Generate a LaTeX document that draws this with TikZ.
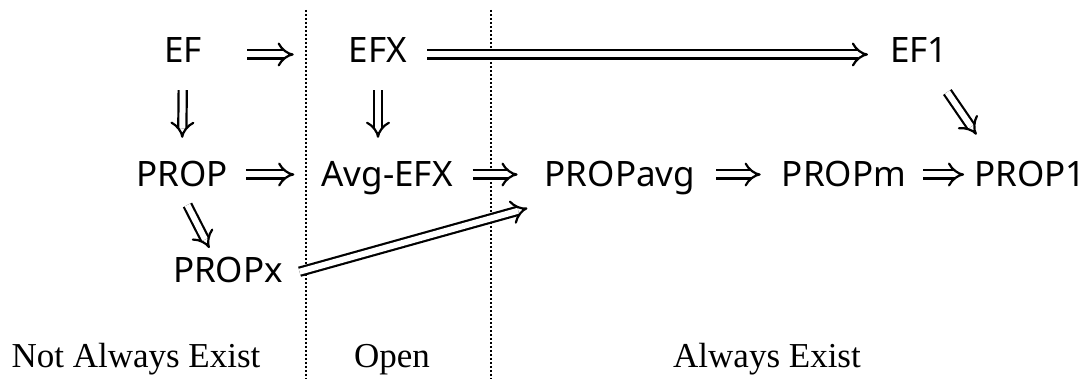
\documentclass[tikz,border=0pt]{standalone}
\usepackage{fontspec}
\setsansfont{Noto Sans}
\setmainfont{Liberation Serif}
\usepackage{tikz}
\usetikzlibrary{arrows.meta}

\begin{document}
\begin{tikzpicture}[x=1pt, y=-1pt,
        notion/.style={font=\sffamily\fontsize{35}{40}\selectfont, anchor=base, inner sep=0pt, text height=25pt, text depth=0pt},
        region/.style={font=\rmfamily\fontsize{35}{40}\selectfont, anchor=base, inner sep=0pt},
        imp/.style={double, double distance=6pt, line width=2.2pt, -{Implies}},
        border/.style={dotted, line width=2pt}]
        \useasboundingbox (0,0) rectangle (1090,379);

        \node[notion] (ef) at (183,63) {EF};
        \node[notion] (efx) at (378,63) {EFX};
        \node[notion] (efone) at (919,63) {EF1};
        \node[notion] (prop) at (182,187) {PROP};
        \node[notion] (avgefx) at (387,187) {Avg-EFX};
        \node[notion] (propavg) at (620,187) {PROPavg};
        \node[notion] (propm) at (844,187) {PROPm};
        \node[notion] (propone) at (1030,187) {PROP1};
        \node[notion] (propx) at (228,283) {PROPx};

        \node[region] (never) at (136,367) {Not Always Exist};
        \node[region] (open) at (392,367) {Open};
        \node[region] (always) at (767,367) {Always Exist};

        \draw[border] (306,10) -- (306,379);
        \draw[border] (491,10) -- (491,379);

        \draw[imp, shorten <=45pt, shorten >=55pt] ([yshift=-4pt]ef.east) -- ([yshift=-4pt]efx.west);
        \draw[imp, shorten <=20pt, shorten >=22pt] ([yshift=-4pt]efx.east) -- ([yshift=-4pt]efone.west);
        \draw[imp, shorten <=27pt, shorten >=24pt] (ef.south) -- (prop.north);
        \draw[imp, shorten <=27pt, shorten >=24pt] (efx.south) -- (efx.south |- avgefx.north);
        \draw[imp, shorten <=35pt, shorten >=33pt] (efone.-56) -- (propone.160);
        \draw[imp, shorten <=18pt, shorten >=27pt] (prop.east) -- (avgefx.west);
        \draw[imp, shorten <=20pt, shorten >=27pt] (avgefx.east) -- (propavg.west);
        \draw[imp, shorten <=21pt, shorten >=21pt] (propavg.east) -- (propm.west);
        \draw[imp, shorten <=17pt, shorten >=10pt] (propm.east) -- (propone.west);
        \draw[imp, shorten <=20pt, shorten >=11pt] (prop.-106) -- (propx.137);
        \draw[imp, shorten <=17pt, shorten >=78pt] (propx.-6) -- (propavg.-144);
\end{tikzpicture}
\end{document}
